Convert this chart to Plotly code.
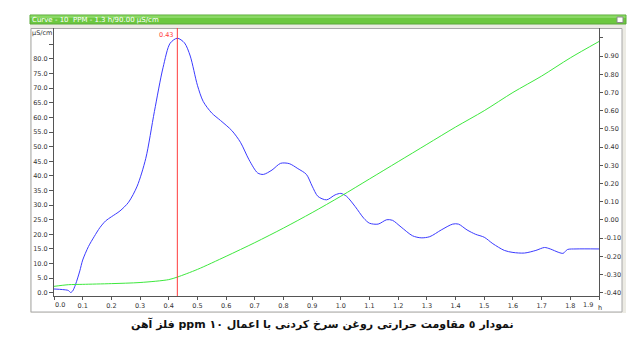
import plotly.graph_objects as go

W, H = 644, 346
ML, MR, MT, MB = 54, 45, 28, 50
PW, PH = W - ML - MR, H - MT - MB

def px(x):
    return (x - ML) / PW

def py(y):
    return (H - MB - y) / PH

# Conductivity curve (left axis, µS/cm) vs time (h)
cond_t = [0.00, 0.03, 0.05, 0.058, 0.065, 0.075, 0.09, 0.10, 0.12, 0.14, 0.16, 0.18, 0.20, 0.23,
          0.26, 0.29, 0.32, 0.35, 0.38, 0.405, 0.43, 0.455, 0.475, 0.50, 0.52, 0.55, 0.58, 0.62,
          0.65, 0.68, 0.71, 0.73, 0.76, 0.79, 0.82, 0.85, 0.88, 0.90, 0.92, 0.95, 0.98, 1.00,
          1.02, 1.05, 1.08, 1.10, 1.13, 1.16, 1.18, 1.21, 1.25, 1.28, 1.31, 1.35, 1.39, 1.41,
          1.44, 1.47, 1.50, 1.53, 1.57, 1.60, 1.64, 1.68, 1.71, 1.73, 1.76, 1.775, 1.79, 1.82, 1.90]
cond_v = [1.3, 1.1, 0.8, 0.1, 0.6, 2.8, 7.5, 11.2, 15.8, 19.2, 22.3, 24.6, 26.0, 28.0,
          31.0, 36.5, 46.0, 62.0, 77.0, 85.4, 87.1, 85.5, 81.0, 71.0, 65.5, 61.5, 59.0, 55.5,
          51.5, 45.5, 41.0, 40.5, 42.0, 44.3, 44.2, 42.5, 40.5, 36.5, 33.0, 31.8, 33.5, 34.0,
          33.0, 29.5, 25.5, 23.8, 23.5, 25.0, 24.8, 22.5, 19.5, 18.8, 19.2, 21.5, 23.5, 23.5,
          21.5, 20.0, 19.0, 16.8, 14.5, 13.8, 13.6, 14.5, 15.5, 15.0, 13.8, 13.5, 14.8, 15.0, 15.0]

# Second curve (right axis)
deriv_t = [0.00, 0.05, 0.10, 0.20, 0.30, 0.40, 0.43, 0.50, 0.60, 0.70, 0.80, 0.90, 1.00,
           1.10, 1.20, 1.30, 1.40, 1.50, 1.60, 1.70, 1.80, 1.90]
deriv_v = [-0.365, -0.356, -0.354, -0.350, -0.344, -0.328, -0.314, -0.272, -0.200, -0.125,
           -0.045, 0.040, 0.130, 0.225, 0.320, 0.415, 0.510, 0.600, 0.700, 0.790, 0.890, 0.980]

marker_t = 0.43
marker_label = "0.43"

x_ticks = [round(i * 0.1, 1) for i in range(20)]
x_ticktext = [""] + [f"{v:.1f}" for v in x_ticks[1:-1]] + [""]
left_ticks = list(range(0, 90, 5))
left_ticktext = [f"{v:.1f}" for v in left_ticks[:-1]] + [""]
right_ticks = [round(-0.4 + i * 0.1, 2) for i in range(15)]
right_ticktext = [f"{v:.2f}" for v in right_ticks[:-1]] + [""]

title_text = "Curve - 10  PPM - 1.3 h/90.00 µS/cm"
unit_text = "µS/cm"
caption = "نمودار ٥ مقاومت حرارتی روغن سرخ کردنی با اعمال ۱۰ ppm فلز آهن"

fig = go.Figure()
fig.add_trace(go.Scatter(x=cond_t, y=cond_v, mode="lines",
                         line=dict(color="#3b3bff", width=1, shape="spline", smoothing=0.8),
                         yaxis="y", showlegend=False, hoverinfo="skip"))
fig.add_trace(go.Scatter(x=deriv_t, y=deriv_v, mode="lines",
                         line=dict(color="#3ee83e", width=1, shape="spline", smoothing=0.8),
                         yaxis="y2", showlegend=False, hoverinfo="skip"))

FONT = "DejaVu Sans"
tickfont = dict(family=FONT, size=6.5, color="#333333")

shapes = [
    dict(type="rect", xref="paper", yref="paper", x0=px(30), x1=px(626), y0=py(24), y1=py(313),
         fillcolor="#ecebe4", line=dict(width=0), layer="below"),
    dict(type="rect", xref="paper", yref="paper", x0=px(31), x1=px(622), y0=py(28.5), y1=py(312),
         fillcolor="white", line=dict(color="#a8a8a8", width=1), layer="below"),
    dict(type="rect", xref="paper", yref="paper", x0=px(30), x1=px(626), y0=py(15), y1=py(24),
         fillcolor="#6cc83f", line=dict(color="#5aa83a", width=1), layer="above"),
    dict(type="rect", xref="paper", yref="paper", x0=px(30.5), x1=px(625.5), y0=py(15.5), y1=py(18),
         fillcolor="#8ad865", line=dict(width=0), layer="above"),
    dict(type="rect", xref="paper", yref="paper", x0=px(617), x1=px(623), y0=py(17), y1=py(22.5),
         fillcolor="white", line=dict(color="#8a8a8a", width=1), layer="above"),
    dict(type="line", xref="x", yref="paper", x0=marker_t, x1=marker_t, y0=0, y1=1,
         line=dict(color="#ff3b3b", width=1), layer="above"),
]

annotations = [
    dict(text=title_text, xref="paper", yref="paper", x=px(30), y=py(19.5), xanchor="left",
         yanchor="middle", showarrow=False, font=dict(family=FONT, size=7, color="white")),
    dict(text=unit_text, xref="paper", yref="paper", x=px(30), y=py(33), xanchor="left",
         yanchor="middle", showarrow=False, font=dict(family=FONT, size=6.5, color="#333333")),
    dict(text=marker_label, xref="x", yref="paper", x=marker_t, y=py(35), xanchor="right",
         yanchor="middle", xshift=-2, showarrow=False,
         font=dict(family=FONT, size=6.5, color="#ff3b3b")),
    dict(text="0.0", xref="paper", yref="paper", x=px(53), y=py(305), xanchor="left",
         yanchor="middle", showarrow=False, font=tickfont),
    dict(text="1.9", xref="paper", yref="paper", x=px(595), y=py(305), xanchor="right",
         yanchor="middle", showarrow=False, font=tickfont),
    dict(text="h", xref="paper", yref="paper", x=px(595.5), y=py(307.5), xanchor="left",
         yanchor="middle", showarrow=False, font=tickfont),
    dict(text="<b>\u202b" + caption + "\u202c</b>", xref="paper", yref="paper", x=px(322), y=py(324),
         xanchor="center", yanchor="middle", showarrow=False,
         font=dict(family=FONT, size=11, color="#111111")),
]

fig.update_layout(
    width=W, height=H, autosize=False,
    margin=dict(l=ML, r=MR, t=MT, b=MB, pad=0),
    paper_bgcolor="white", plot_bgcolor="rgba(0,0,0,0)",
    xaxis=dict(range=[0, 1.9], tickvals=x_ticks, ticktext=x_ticktext, showgrid=False, zeroline=False,
               showline=True, linecolor="#555555", linewidth=1, ticks="outside", ticklen=3,
               tickcolor="#555555", tickfont=tickfont, automargin=False, fixedrange=True),
    yaxis=dict(range=[-1.1, 90.6], tickvals=left_ticks, ticktext=left_ticktext, showgrid=False,
               zeroline=False, showline=True, linecolor="#555555", linewidth=1, ticks="outside",
               ticklen=4, tickcolor="#555555", tickfont=tickfont, automargin=False),
    yaxis2=dict(range=[-0.418, 1.054], tickvals=right_ticks, ticktext=right_ticktext,
                overlaying="y", side="right", showgrid=False, zeroline=False, showline=True,
                linecolor="#555555", linewidth=1, ticks="outside", ticklen=3, tickcolor="#555555",
                tickfont=tickfont, automargin=False),
    shapes=shapes,
    annotations=annotations,
)

fig.write_html("out.html")
